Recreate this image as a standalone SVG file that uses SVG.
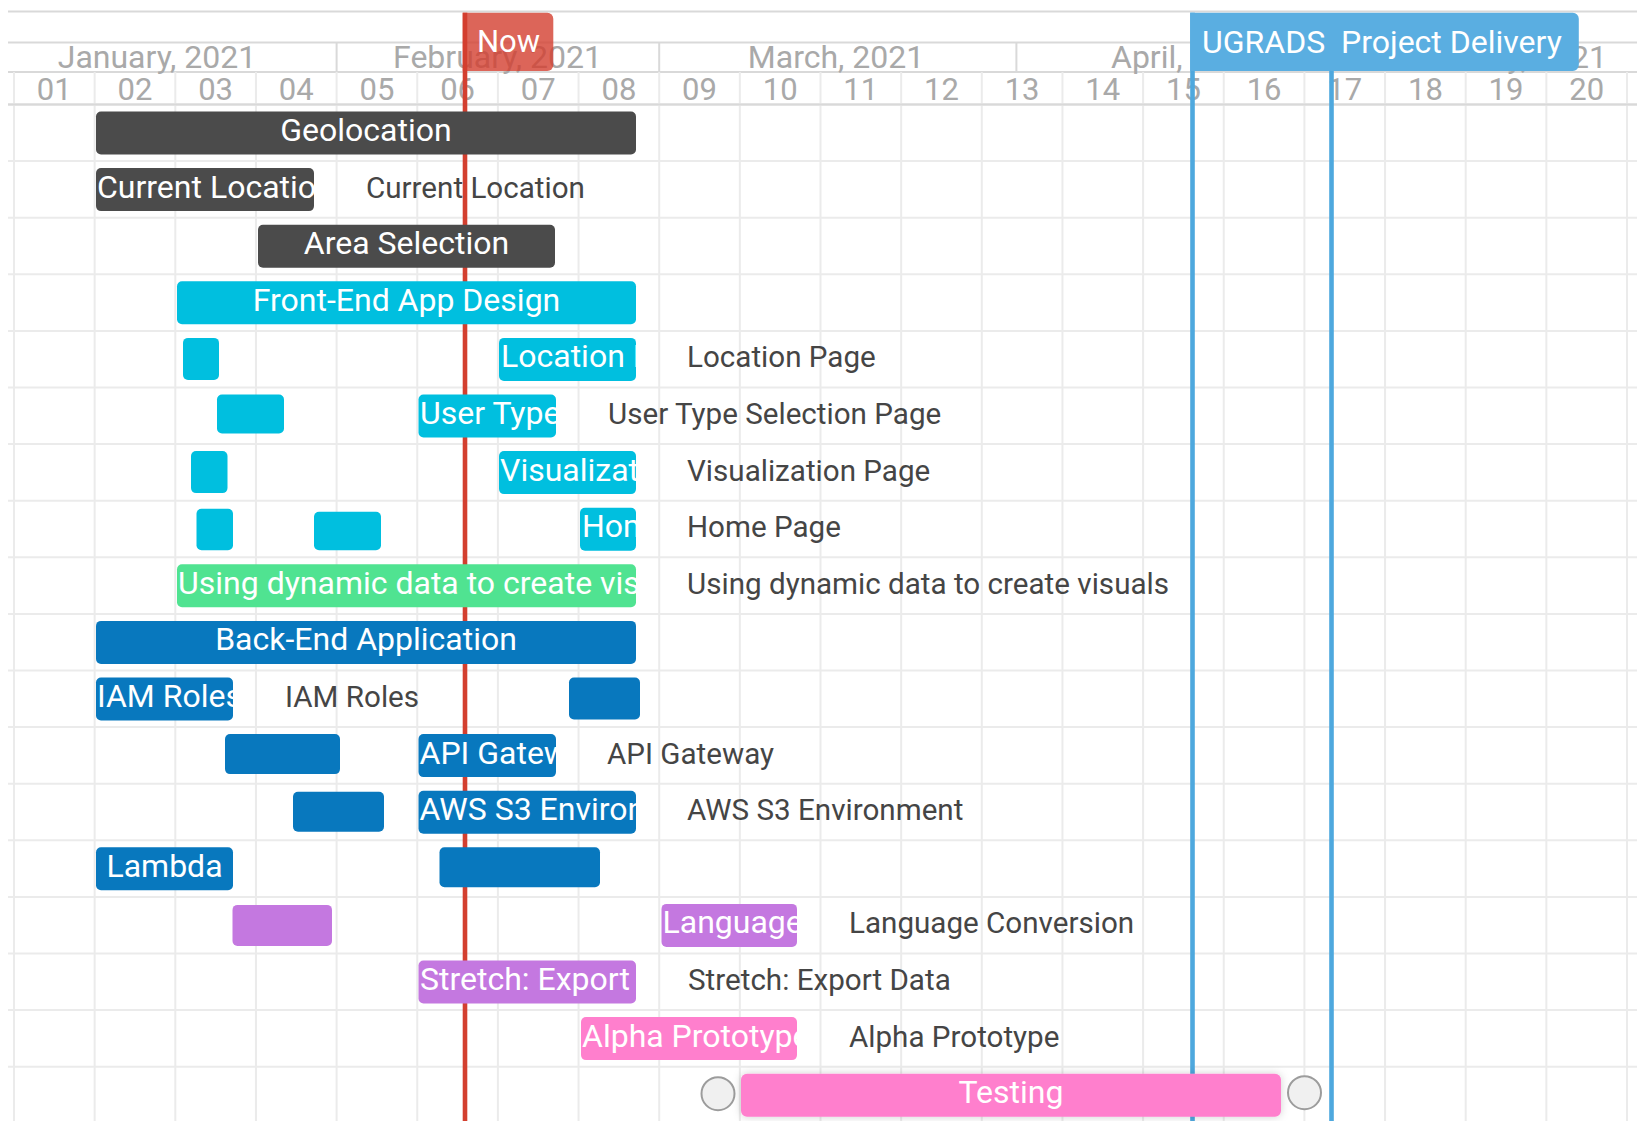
<svg xmlns="http://www.w3.org/2000/svg" width="1637" height="1121" viewBox="0 0 1637 1121">
  <style>
    text { font-family: Roboto, "Liberation Sans", Arial, sans-serif; }
    .hdr-line { stroke: #d9d9d9; stroke-width: 2; fill: none; }
    .grid { stroke: #ebebeb; stroke-width: 2; fill: none; }
    .month { font-size: 32px; fill: #a9a9a9; }
    .day { font-size: 31px; fill: #a9a9a9; text-anchor: middle; }
    .lbl { font-size: 32px; fill: #ffffff; }
    .mk { font-size: 31px; fill: #ffffff; }
    .mid { text-anchor: middle; }
    .side { font-size: 29.6px; fill: #454545; }
    .dark { fill: #4b4b4b; }
    .cyan { fill: #00bfdf; }
    .green { fill: #50e391; }
    .blue { fill: #0878be; }
    .purple { fill: #c478e0; }
    .pink { fill: #ff7fcd; }
    .handle { fill: #f0f0f0; stroke: #9c9c9c; stroke-width: 2; }
  </style>
  <defs>
    <!-- clip areas for labels that are wider than their bar (row-local coordinates) -->
    <clipPath id="clip-current"><rect x="96" y="7" width="218" height="43" rx="5"/></clipPath>
    <clipPath id="clip-location"><rect x="499" y="7" width="137" height="43" rx="5"/></clipPath>
    <clipPath id="clip-usertype"><rect x="418.5" y="7" width="137.5" height="43" rx="5"/></clipPath>
    <clipPath id="clip-visual"><rect x="499" y="7" width="137" height="43" rx="5"/></clipPath>
    <clipPath id="clip-home"><rect x="580" y="7" width="56" height="43" rx="5"/></clipPath>
    <clipPath id="clip-dynamic"><rect x="177" y="7" width="459" height="43" rx="5"/></clipPath>
    <clipPath id="clip-iam"><rect x="96" y="7" width="137" height="43" rx="5"/></clipPath>
    <clipPath id="clip-api"><rect x="418.5" y="7" width="137.5" height="43" rx="5"/></clipPath>
    <clipPath id="clip-s3"><rect x="418.5" y="7" width="217.5" height="43" rx="5"/></clipPath>
    <clipPath id="clip-language"><rect x="661.5" y="7" width="135.5" height="43" rx="5"/></clipPath>
    <clipPath id="clip-export"><rect x="418.5" y="7" width="217.5" height="43" rx="5"/></clipPath>
    <clipPath id="clip-alpha"><rect x="581" y="7" width="216" height="43" rx="5"/></clipPath>
    <filter id="lift" x="-10%" y="-40%" width="120%" height="180%">
      <feDropShadow dx="0" dy="0" stdDeviation="4" flood-color="#000" flood-opacity="0.18"/>
    </filter>
  </defs>

  <rect width="1637" height="1121" fill="#ffffff"/>

  <!-- scale header -->
  <g id="scale">
    <path class="hdr-line" d="M8 11.5H1637M8 42.5H1637M8 72H1637M8 104.5H1637"/>
    <!-- month boundaries -->
    <path class="hdr-line" d="M336.6 42.5V72M659.2 42.5V72M1016.4 42.5V72M1362 42.5V72"/>
    <text class="month mid" x="157" y="68">January, 2021</text>
    <text class="month mid" x="497.5" y="68">February, 2021</text>
    <text class="month mid" x="836" y="68">March, 2021</text>
    <text class="month" x="1111" y="68">April, 2021</text>
    <text class="month" x="1607" y="68" text-anchor="end">May, 2021</text>
    <g class="days">
      <text class="day" x="54.3" y="100">01</text>
      <text class="day" x="135" y="100">02</text>
      <text class="day" x="215.6" y="100">03</text>
      <text class="day" x="296.3" y="100">04</text>
      <text class="day" x="376.9" y="100">05</text>
      <text class="day" x="457.6" y="100">06</text>
      <text class="day" x="538.2" y="100">07</text>
      <text class="day" x="618.9" y="100">08</text>
      <text class="day" x="699.5" y="100">09</text>
      <text class="day" x="780.2" y="100">10</text>
      <text class="day" x="860.8" y="100">11</text>
      <text class="day" x="941.5" y="100">12</text>
      <text class="day" x="1022.1" y="100">13</text>
      <text class="day" x="1102.8" y="100">14</text>
      <text class="day" x="1183.4" y="100">15</text>
      <text class="day" x="1264.1" y="100">16</text>
      <text class="day" x="1344.7" y="100">17</text>
      <text class="day" x="1425.4" y="100">18</text>
      <text class="day" x="1506" y="100">19</text>
      <text class="day" x="1586.7" y="100">20</text>
    </g>
  </g>

  <!-- timeline grid -->
  <g id="grid">
    <path class="grid" d="M14 72V1121M94.65 72V1121M175.3 72V1121M255.95 72V1121M336.6 72V1121M417.25 72V1121M497.9 72V1121M578.55 72V1121M659.2 72V1121M739.85 72V1121M820.5 72V1121M901.15 72V1121M981.8 72V1121M1062.45 72V1121M1143.1 72V1121M1223.75 72V1121M1304.4 72V1121M1385.05 72V1121M1465.7 72V1121M1546.35 72V1121M1627 72V1121"/>
    <path class="grid" d="M8 161.1H1637M8 217.7H1637M8 274.3H1637M8 330.9H1637M8 387.5H1637M8 444.1H1637M8 500.7H1637M8 557.3H1637M8 613.9H1637M8 670.5H1637M8 727.1H1637M8 783.7H1637M8 840.3H1637M8 896.9H1637M8 953.5H1637M8 1010.1H1637M8 1066.7H1637"/>
    <path class="hdr-line" d="M8 104.5H1637"/>
  </g>

  <!-- markers -->
  <g id="marker-now">
    <rect x="462.7" y="12.7" width="4.6" height="1108.3" fill="#d33f2f"/>
    <path d="M462.7 12.7H547.3A6 6 0 0 1 553.3 18.7V65A6 6 0 0 1 547.3 71H462.7Z" fill="#d33f2f" fill-opacity="0.8"/>
    <text class="mk mid" x="508.5" y="52">Now</text>
  </g>
  <g id="marker-delivery">
    <rect x="1190.2" y="12.7" width="4.6" height="1108.3" fill="#4ea8de"/>
    <rect x="1329.2" y="60" width="4.6" height="1061" fill="#4ea8de"/>
    <path d="M1190.2 12.7H1572.8A6 6 0 0 1 1578.8 18.7V65A6 6 0 0 1 1572.8 71H1190.2Z" fill="#5aaee1"/>
    <text class="mk" x="1202" y="53" style="font-size:32px" xml:space="preserve">UGRADS  Project Delivery</text>
  </g>

  <!-- tasks -->
  <g id="task-geolocation" transform="translate(0,104.5)">
    <rect class="dark" x="96" y="7" width="540" height="43" rx="5"/>
    <text class="lbl mid" x="366" y="36.5">Geolocation</text>
  </g>
  <g id="task-current-location" transform="translate(0,161.1)">
    <rect class="dark" x="96" y="7" width="218" height="43" rx="5"/>
    <text class="lbl" x="97" y="36.5" clip-path="url(#clip-current)">Current Location</text>
    <text class="side" x="366" y="36.5">Current Location</text>
  </g>
  <g id="task-area-selection" transform="translate(0,217.7)">
    <rect class="dark" x="258" y="7" width="297" height="43" rx="5"/>
    <text class="lbl mid" x="406.5" y="36.5">Area Selection</text>
  </g>
  <g id="task-front-end" transform="translate(0,274.3)">
    <rect class="cyan" x="177" y="7" width="459" height="43" rx="5"/>
    <text class="lbl mid" x="406.5" y="36.5">Front-End App Design</text>
  </g>
  <g id="task-location-page" transform="translate(0,330.9)">
    <rect class="cyan" x="183" y="7" width="36" height="42" rx="5"/>
    <rect class="cyan" x="499" y="7" width="137" height="43" rx="5"/>
    <text class="lbl" x="501" y="36.5" clip-path="url(#clip-location)">Location Page</text>
    <text class="side" x="687" y="36.5">Location Page</text>
  </g>
  <g id="task-user-type" transform="translate(0,387.5)">
    <rect class="cyan" x="217" y="7" width="67" height="39" rx="5"/>
    <rect class="cyan" x="418.5" y="7" width="137.5" height="43" rx="5"/>
    <text class="lbl" x="420" y="36.5" clip-path="url(#clip-usertype)">User Type Selection Page</text>
    <text class="side" x="608" y="36.5">User Type Selection Page</text>
  </g>
  <g id="task-visualization" transform="translate(0,444.1)">
    <rect class="cyan" x="191" y="7" width="36.5" height="42" rx="5"/>
    <rect class="cyan" x="499" y="7" width="137" height="43" rx="5"/>
    <text class="lbl" x="500" y="36.5" clip-path="url(#clip-visual)">Visualization Page</text>
    <text class="side" x="687" y="36.5">Visualization Page</text>
  </g>
  <g id="task-home" transform="translate(0,500.7)">
    <rect class="cyan" x="196.5" y="8" width="36.5" height="41.5" rx="5"/>
    <rect class="cyan" x="314" y="11" width="67" height="38.5" rx="5"/>
    <rect class="cyan" x="580" y="7" width="56" height="43" rx="5"/>
    <text class="lbl" x="582" y="36.5" clip-path="url(#clip-home)">Home Page</text>
    <text class="side" x="687" y="36.5">Home Page</text>
  </g>
  <g id="task-dynamic-data" transform="translate(0,557.3)">
    <rect class="green" x="177" y="7" width="459" height="43" rx="5"/>
    <text class="lbl" x="178" y="36.5" clip-path="url(#clip-dynamic)">Using dynamic data to create visuals</text>
    <text class="side" x="687" y="36.5">Using dynamic data to create visuals</text>
  </g>
  <g id="task-back-end" transform="translate(0,613.9)">
    <rect class="blue" x="96" y="7" width="540" height="43" rx="5"/>
    <text class="lbl mid" x="366" y="36.5">Back-End Application</text>
  </g>
  <g id="task-iam-roles" transform="translate(0,670.5)">
    <rect class="blue" x="96" y="7" width="137" height="43" rx="5"/>
    <text class="lbl" x="97" y="36.5" clip-path="url(#clip-iam)">IAM Roles</text>
    <text class="side" x="285" y="36.5">IAM Roles</text>
    <rect class="blue" x="569" y="7" width="71" height="42" rx="5"/>
  </g>
  <g id="task-api-gateway" transform="translate(0,727.1)">
    <rect class="blue" x="225" y="7" width="115" height="40" rx="5"/>
    <rect class="blue" x="418.5" y="7" width="137.5" height="43" rx="5"/>
    <text class="lbl" x="419.5" y="36.5" clip-path="url(#clip-api)">API Gateway</text>
    <text class="side" x="607" y="36.5">API Gateway</text>
  </g>
  <g id="task-aws-s3" transform="translate(0,783.7)">
    <rect class="blue" x="293" y="8" width="91" height="40" rx="5"/>
    <rect class="blue" x="418.5" y="7" width="217.5" height="43" rx="5"/>
    <text class="lbl" x="419.5" y="36.5" clip-path="url(#clip-s3)">AWS S3 Environment</text>
    <text class="side" x="687" y="36.5">AWS S3 Environment</text>
  </g>
  <g id="task-lambda" transform="translate(0,840.3)">
    <rect class="blue" x="96" y="7" width="137" height="43" rx="5"/>
    <text class="lbl mid" x="164.5" y="36.5">Lambda</text>
    <rect class="blue" x="439.5" y="7" width="160.5" height="40" rx="5"/>
  </g>
  <g id="task-language" transform="translate(0,896.9)">
    <rect class="purple" x="232.5" y="8" width="99.5" height="41" rx="5"/>
    <rect class="purple" x="661.5" y="7" width="135.5" height="43" rx="5"/>
    <text class="lbl" x="662.5" y="36.5" clip-path="url(#clip-language)">Language Conversion</text>
    <text class="side" x="849" y="36.5">Language Conversion</text>
  </g>
  <g id="task-export" transform="translate(0,953.5)">
    <rect class="purple" x="418.5" y="7" width="217.5" height="43" rx="5"/>
    <text class="lbl" x="420" y="36.5" clip-path="url(#clip-export)">Stretch: Export Data</text>
    <text class="side" x="688" y="36.5">Stretch: Export Data</text>
  </g>
  <g id="task-alpha" transform="translate(0,1010.1)">
    <rect class="pink" x="581" y="7" width="216" height="43" rx="5"/>
    <text class="lbl" x="582" y="36.5" clip-path="url(#clip-alpha)">Alpha Prototype</text>
    <text class="side" x="849" y="36.5">Alpha Prototype</text>
  </g>
  <g id="task-testing" transform="translate(0,1066.7)">
    <circle class="handle" cx="718" cy="27" r="16.5"/>
    <rect class="pink" x="741" y="7" width="540" height="43" rx="6" filter="url(#lift)"/>
    <text class="lbl mid" x="1011" y="36.5">Testing</text>
    <circle class="handle" cx="1304.5" cy="26" r="16.5"/>
  </g>
</svg>
